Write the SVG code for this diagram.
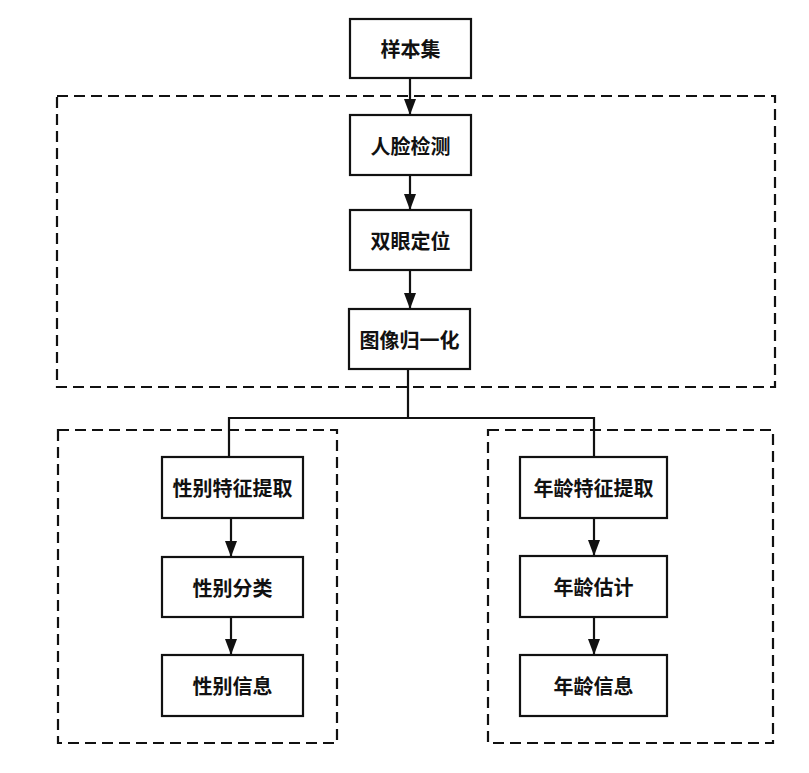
<svg xmlns="http://www.w3.org/2000/svg" width="809" height="773" viewBox="0 0 809 773">
<style>
.box{fill:#fff;stroke:#111;stroke-width:2.2}
.dash{fill:none;stroke:#111;stroke-width:2.2;stroke-dasharray:11 6}
.ln{fill:none;stroke:#111;stroke-width:2.2}
text{font-family:"Noto Sans CJK SC","Noto Sans",sans-serif;font-size:20px;font-weight:bold;fill:#111;text-anchor:middle;dominant-baseline:central}
</style>
<defs>
<marker id="ah" markerWidth="16" markerHeight="12" refX="16" refY="6" orient="auto" markerUnits="userSpaceOnUse" viewBox="0 0 16 12">
<path d="M0,0 L16,6 L0,12 Z" fill="#111"/>
</marker>
</defs>
<rect width="809" height="773" fill="#fff"/>
<g id="groups">
<rect class="dash" x="57" y="96" width="718" height="291"/>
<rect class="dash" x="58" y="430" width="279" height="313"/>
<rect class="dash" x="488" y="430" width="285" height="313"/>
</g>
<g id="connectors">
<line class="ln" x1="410" y1="78" x2="410" y2="115" marker-end="url(#ah)"/>
<line class="ln" x1="410" y1="175" x2="410" y2="210" marker-end="url(#ah)"/>
<line class="ln" x1="410" y1="270" x2="410" y2="309" marker-end="url(#ah)"/>
<polyline class="ln" points="408,369 408,418"/>
<polyline class="ln" points="229,457 229,418 594,418 594,457"/>
<line class="ln" x1="231" y1="518" x2="231" y2="557" marker-end="url(#ah)"/>
<line class="ln" x1="231" y1="617" x2="231" y2="655" marker-end="url(#ah)"/>
<line class="ln" x1="594" y1="518" x2="594" y2="556" marker-end="url(#ah)"/>
<line class="ln" x1="594" y1="617" x2="594" y2="655" marker-end="url(#ah)"/>
</g>
<g id="n1"><rect class="box" x="350" y="19" width="121" height="59"/><text x="410.5" y="48.5">样本集</text></g>
<g id="n2"><rect class="box" x="350" y="115" width="121" height="60"/><text x="410.5" y="145">人脸检测</text></g>
<g id="n3"><rect class="box" x="350" y="210" width="121" height="60"/><text x="410.5" y="240">双眼定位</text></g>
<g id="n4"><rect class="box" x="349" y="309" width="121" height="60"/><text x="409.5" y="339">图像归一化</text></g>
<g id="n5"><rect class="box" x="162" y="457" width="141" height="61"/><text x="232.5" y="487.5">性别特征提取</text></g>
<g id="n6"><rect class="box" x="162" y="557" width="141" height="60"/><text x="232.5" y="587">性别分类</text></g>
<g id="n7"><rect class="box" x="162" y="655" width="141" height="61"/><text x="232.5" y="685.5">性别信息</text></g>
<g id="n8"><rect class="box" x="520" y="457" width="147" height="61"/><text x="593.5" y="487.5">年龄特征提取</text></g>
<g id="n9"><rect class="box" x="520" y="556" width="147" height="61"/><text x="593.5" y="586.5">年龄估计</text></g>
<g id="n10"><rect class="box" x="520" y="655" width="147" height="61"/><text x="593.5" y="685.5">年龄信息</text></g>
</svg>
